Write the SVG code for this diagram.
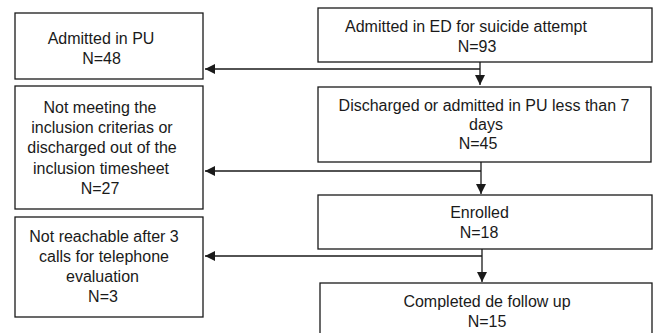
<svg xmlns="http://www.w3.org/2000/svg" width="655" height="333" viewBox="0 0 655 333">
<defs>
<style>
.box{fill:#fff;stroke:#1a1a1a;stroke-width:1.3}
.t{font-family:"Liberation Sans",Arial,sans-serif;font-size:16px;fill:#1a1a1a;text-anchor:middle}
.c{fill:none;stroke:#1a1a1a;stroke-width:1.3}
</style>
<marker id="ah" viewBox="0 0 10 10" refX="10" refY="5" markerWidth="10" markerHeight="10" markerUnits="userSpaceOnUse" orient="auto">
<path d="M0,0 L10,5 L0,10 z" fill="#1a1a1a"/>
</marker>
</defs>
<rect width="655" height="333" fill="#fff"/>
<g id="connectors">
<path class="c" d="M480,62 V85" marker-end="url(#ah)"/>
<path class="c" d="M480,69 H205" marker-end="url(#ah)"/>
<path class="c" d="M481,162 V194" marker-end="url(#ah)"/>
<path class="c" d="M481,171 H205" marker-end="url(#ah)"/>
<path class="c" d="M482,249 V282" marker-end="url(#ah)"/>
<path class="c" d="M482,256 H205" marker-end="url(#ah)"/>
</g>
<g id="n-ed">
<rect class="box" x="318" y="8" width="334" height="54"/>
<text class="t" x="466" y="32">Admitted in ED for suicide attempt</text>
<text class="t" x="477" y="52">N=93</text>
</g>
<g id="n-discharged">
<rect class="box" x="318" y="87" width="333" height="75"/>
<text class="t" x="484" y="111">Discharged or admitted in PU less than 7</text>
<text class="t" x="486" y="130">days</text>
<text class="t" x="478" y="149">N=45</text>
</g>
<g id="n-enrolled">
<rect class="box" x="318" y="195" width="334" height="54"/>
<text class="t" x="479.5" y="218">Enrolled</text>
<text class="t" x="479" y="238">N=18</text>
</g>
<g id="n-completed">
<rect class="box" x="320" y="283" width="332" height="60"/>
<text class="t" x="487" y="307">Completed de follow up</text>
<text class="t" x="487" y="327">N=15</text>
</g>
<g id="n-pu">
<rect class="box" x="15" y="13" width="188" height="66"/>
<text class="t" x="101" y="44">Admitted in PU</text>
<text class="t" x="101.5" y="64">N=48</text>
</g>
<g id="n-notmeeting">
<rect class="box" x="15" y="86" width="188" height="123"/>
<text class="t" x="100" y="113">Not meeting the</text>
<text class="t" x="102" y="133">inclusion criterias or</text>
<text class="t" x="102" y="153">discharged out of the</text>
<text class="t" x="101" y="174">inclusion timesheet</text>
<text class="t" x="100" y="194">N=27</text>
</g>
<g id="n-notreachable">
<rect class="box" x="15" y="217" width="188" height="100"/>
<text class="t" x="104" y="242">Not reachable after 3</text>
<text class="t" x="104" y="262">calls for telephone</text>
<text class="t" x="102.5" y="282">evaluation</text>
<text class="t" x="103" y="302">N=3</text>
</g>
</svg>
